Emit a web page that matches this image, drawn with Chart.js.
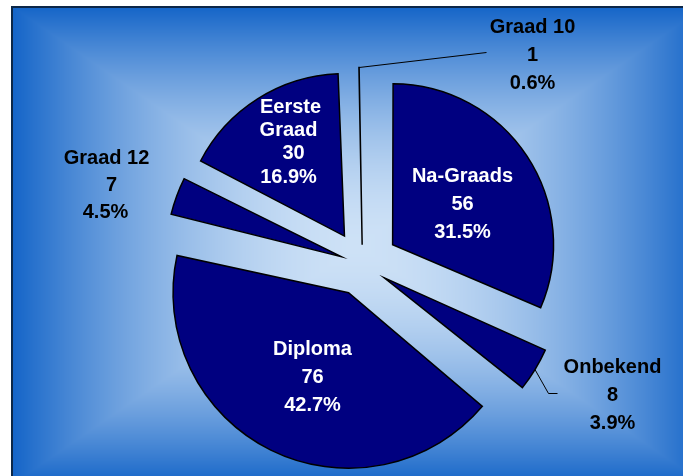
<!DOCTYPE html>
<html><head><meta charset="utf-8">
<script src="https://cdn.jsdelivr.net/npm/chart.js@4.4.0/dist/chart.umd.min.js"></script>
<style>html,body{margin:0;padding:0;background:#fff;overflow:hidden}#wrap{width:683px;height:476px;position:relative}</style>
</head><body><div id="wrap"><canvas id="c" width="683" height="476"></canvas></div>
<script>
// ---- data ----
const categories = ['Na-Graads', 'Onbekend', 'Diploma', 'Graad 12', 'Eerste Graad', 'Graad 10'];
const values = [56, 8, 76, 7, 30, 1];
const percentLabels = ['31.5%', '3.9%', '42.7%', '4.5%', '16.9%', '0.6%'];

// ---- styles ----
const explode = [39, 44, 49, 40, 38, 39]; // desired pixel displacement of each slice
const labelStyle = [
  {dx: 100, dy: -62, color: '#fff', lh: 28},
  {dx: 250, dy: 129, color: '#000', lh: 28, leader: [[-55, 0], [-64, 0]]},
  {dx: -50, dy: 111, color: '#fff', lh: 28},
  {dx: -256, dy: -81, color: '#000', lh: 27, xs: [0, 5, -1]},
  {dx: -72, dy: -124, color: '#fff', lh: 23.3, wrap: true, xs: [0, -2, 3, -2]},
  {dx: 170, dy: -211, color: '#000', lh: 28, leader: [[-46, -1]]}
];
// Chart.js arc translates by offset/4*(1+fix); convert desired displacement into the option value
const total = values.reduce((a, b) => a + b, 0);
const sliceOffsets = values.map((v, i) => {
  const circ = 2 * Math.PI * v / total;
  const fix = 1 - Math.sin(Math.min(Math.PI, circ));
  return 4 * explode[i] / (1 + fix);
});
const W = 683, H = 476;
let bgCanvas = null;
function buildBg() {
  bgCanvas = document.createElement('canvas');
  bgCanvas.width = W; bgCanvas.height = H;
  const g = bgCanvas.getContext('2d');
  const img = g.createImageData(W, H);
  const c0 = [205, 225, 246], c1 = [21, 101, 200];
  const cx = 358, cy = 245, hw = 345, hh = 238;
  for (let y = 0; y < H; y++) {
    for (let x = 0; x < W; x++) {
      const i = (y * W + x) * 4;
      if (x < 13 || y < 8) { img.data[i+3] = 0; continue; }
      let t = Math.max(Math.abs(x - cx) / hw, Math.abs(y - cy) / hh);
      t = Math.min(1, t);
      const f = Math.pow(t, 1.8);
      img.data[i] = c0[0] + (c1[0] - c0[0]) * f;
      img.data[i+1] = c0[1] + (c1[1] - c0[1]) * f;
      img.data[i+2] = c0[2] + (c1[2] - c0[2]) * f;
      img.data[i+3] = 255;
    }
  }
  g.putImageData(img, 0, 0);
}
const bgPlugin = {
  id: 'bg',
  beforeDraw(chart) {
    const ctx = chart.ctx;
    if (!bgCanvas) buildBg();
    ctx.save();
    ctx.fillStyle = '#fff'; ctx.fillRect(0, 0, W, H);
    ctx.drawImage(bgCanvas, 0, 0);
    ctx.fillStyle = '#0c2748';
    ctx.fillRect(11, 6, W - 11, 2);
    ctx.fillRect(11, 6, 2, H - 6);
    ctx.restore();
  }
};
const labelPlugin = {
  id: 'lbl',
  afterDatasetsDraw(chart) {
    const ctx = chart.ctx;
    const meta = chart.getDatasetMeta(0);
    ctx.save();
    ctx.font = 'bold 20px "Liberation Sans", Arial, sans-serif';
    ctx.textAlign = 'center';
    ctx.textBaseline = 'alphabetic';
    meta.data.forEach((arc, i) => {
      const st = labelStyle[i];
      const bx = arc.x + st.dx, by = arc.y + st.dy;
      const names = st.wrap ? categories[i].split(' ') : [categories[i]];
      const lines = names.concat([String(values[i]), percentLabels[i]]);
      const n = lines.length;
      ctx.fillStyle = st.color;
      lines.forEach((t, k) => {
        const ly = by + (k - (n - 1) / 2) * st.lh;
        const lx = bx + (st.xs ? st.xs[k] : 0);
        ctx.fillText(t, lx, ly + 7.2);
      });
      if (st.leader) {
        const mid = (arc.startAngle + arc.endAngle) / 2;
        const r = arc.outerRadius + explode[i];
        const ex = arc.x + Math.cos(mid) * r, ey = arc.y + Math.sin(mid) * r;
        ctx.strokeStyle = '#000';
        ctx.lineWidth = 1;
        ctx.beginPath();
        st.leader.forEach((p, k) => {
          const px = bx + p[0], py = by + p[1];
          if (k === 0) ctx.moveTo(px, py); else ctx.lineTo(px, py);
        });
        ctx.lineTo(ex, ey);
        ctx.stroke();
      }
    });
    ctx.restore();
  }
};
new Chart(document.getElementById('c'), {
  type: 'pie',
  data: {
    labels: categories,
    datasets: [{
      data: values,
      backgroundColor: '#000080',
      borderColor: '#000',
      borderWidth: 1.5,
      borderJoinStyle: 'miter',
      offset: sliceOffsets,
      clip: false
    }]
  },
  options: {
    responsive: false,
    devicePixelRatio: 1,
    animation: false,
    events: [],
    radius: 158,
    layout: {padding: {left: 52, right: 10, top: 60, bottom: 7}},
    plugins: {legend: {display: false}, tooltip: {enabled: false}}
  },
  plugins: [bgPlugin, labelPlugin]
});
</script></body></html>
